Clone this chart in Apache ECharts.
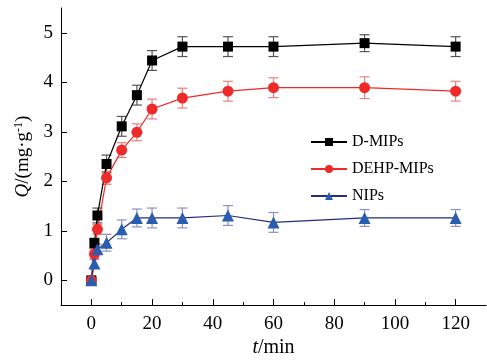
<!DOCTYPE html>
<html>
<head>
<meta charset="utf-8">
<script src="https://cdn.jsdelivr.net/npm/echarts@6/dist/echarts.min.js"></script>
<style>
  html, body { margin: 0; padding: 0; background: #fff; }
  #main { width: 487px; height: 363px; }
</style>
</head>
<body>
<div id="main"></div>
<script>
// 时间 (min)
const times = [0, 1, 2, 5, 10, 15, 20, 30, 45, 60, 90, 120];
// 吸附量 Q 及误差
const dMips = [0, 0.75, 1.31, 2.35, 3.11, 3.74, 4.44, 4.72, 4.72, 4.72, 4.79, 4.72];
const dMipsErr = [0.05, 0.1, 0.15, 0.18, 0.2, 0.2, 0.2, 0.2, 0.2, 0.2, 0.17, 0.2];
const dehpMips = [0, 0.53, 1.03, 2.07, 2.63, 2.99, 3.46, 3.68, 3.82, 3.89, 3.89, 3.82];
const dehpMipsErr = [0.05, 0.08, 0.1, 0.13, 0.15, 0.17, 0.2, 0.2, 0.2, 0.2, 0.22, 0.2];
const nips = [0, 0.34, 0.63, 0.76, 1.03, 1.26, 1.26, 1.26, 1.31, 1.17, 1.26, 1.26];
const nipsErr = [0.05, 0.08, 0.1, 0.17, 0.19, 0.18, 0.2, 0.2, 0.2, 0.2, 0.17, 0.17];

const xTicks = [0, 20, 40, 60, 80, 100, 120];
const xMinorTicks = [10, 30, 50, 70, 90, 110];
const yTicks = [0, 1, 2, 3, 4, 5];

const font = '"Liberation Serif", "Times New Roman", serif';

const pairs = (ys) => times.map((t, i) => [t, ys[i]]);

// 误差棒
function errorSeries(ys, errs, color) {
  return {
    type: 'custom',
    silent: true,
    z: 1,
    data: times.map((t, i) => [t, ys[i] - errs[i], ys[i] + errs[i]]),
    renderItem: (params, api) => {
      const lo = api.coord([api.value(0), api.value(1)]);
      const hi = api.coord([api.value(0), api.value(2)]);
      const w = 5;
      const style = { stroke: color, lineWidth: 1.2 };
      return {
        type: 'group',
        children: [
          { type: 'line', shape: { x1: lo[0], y1: lo[1], x2: hi[0], y2: hi[1] }, style },
          { type: 'line', shape: { x1: lo[0] - w, y1: lo[1], x2: lo[0] + w, y2: lo[1] }, style },
          { type: 'line', shape: { x1: hi[0] - w, y1: hi[1], x2: hi[0] + w, y2: hi[1] }, style }
        ]
      };
    }
  };
}

const myChart = echarts.init(document.getElementById('main'));

const option = {
  backgroundColor: '#fff',
  animation: false,
  textStyle: { fontFamily: font, color: '#000' },
  grid: { left: 61, right: 1, top: 8, bottom: 50 },
  legend: {
    orient: 'vertical',
    left: 305,
    top: 129,
    itemWidth: 36,
    itemHeight: 10,
    itemGap: 11,
    data: ['D-MIPs', 'DEHP-MIPs', 'NIPs'],
    textStyle: { fontFamily: font, fontSize: 16, color: '#000' }
  },
  xAxis: [
    {
      type: 'value',
      min: -10,
      max: 130,
      name: '{i|t}/min',
      nameLocation: 'middle',
      nameGap: 32,
      nameTextStyle: {
        fontFamily: font, fontSize: 20, color: '#000',
        rich: { i: { fontFamily: font, fontSize: 20, fontStyle: 'italic', color: '#000' } }
      },
      splitLine: { show: false },
      axisLine: { onZero: false, lineStyle: { color: '#000', width: 1 } },
      axisTick: { inside: true, length: 6, customValues: xTicks, lineStyle: { color: '#000' } },
      axisLabel: { customValues: xTicks, margin: 9, fontFamily: font, fontSize: 19, color: '#000' }
    },
    {
      type: 'value',
      min: -10,
      max: 130,
      position: 'bottom',
      splitLine: { show: false },
      axisLine: { show: false, onZero: false },
      axisTick: { inside: true, length: 3, customValues: xMinorTicks, lineStyle: { color: '#000' } },
      axisLabel: { show: false }
    }
  ],
  yAxis: {
    type: 'value',
    min: -0.5,
    max: 5.5,
    name: '{i|Q}/(mg·g{sup|-1})',
    nameLocation: 'middle',
    nameRotate: 90,
    nameGap: 23,
    nameTextStyle: {
      fontFamily: font, fontSize: 19, color: '#000',
      rich: {
        i: { fontFamily: font, fontSize: 19, fontStyle: 'italic', color: '#000' },
        sup: { fontFamily: font, fontSize: 12, color: '#000', padding: [0, 0, 9, 0] }
      }
    },
    splitLine: { show: false },
    axisLine: { show: true, onZero: false, lineStyle: { color: '#000', width: 1 } },
    axisTick: { show: true, inside: true, length: 6, customValues: yTicks, lineStyle: { color: '#000' } },
    axisLabel: { customValues: yTicks, margin: 8, fontFamily: font, fontSize: 19, color: '#000' }
  },
  series: [
    errorSeries(dMips, dMipsErr, '#555555'),
    errorSeries(dehpMips, dehpMipsErr, '#e98080'),
    errorSeries(nips, nipsErr, '#8a90c4'),
    {
      name: 'D-MIPs',
      type: 'line',
      z: 3,
      data: pairs(dMips),
      symbol: 'rect',
      symbolSize: 10,
      lineStyle: { color: '#000', width: 1.2 },
      itemStyle: { color: '#000' }
    },
    {
      name: 'DEHP-MIPs',
      type: 'line',
      z: 3,
      data: pairs(dehpMips),
      symbol: 'circle',
      symbolSize: 11,
      lineStyle: { color: '#ee2a2a', width: 1.2 },
      itemStyle: { color: '#ee2a2a' }
    },
    {
      name: 'NIPs',
      type: 'line',
      z: 3,
      data: pairs(nips),
      symbol: 'triangle',
      symbolSize: 12,
      lineStyle: { color: '#1f2f7a', width: 1.2 },
      itemStyle: { color: '#2a5cb0' }
    }
  ]
};

myChart.setOption(option);
</script>
</body>
</html>
